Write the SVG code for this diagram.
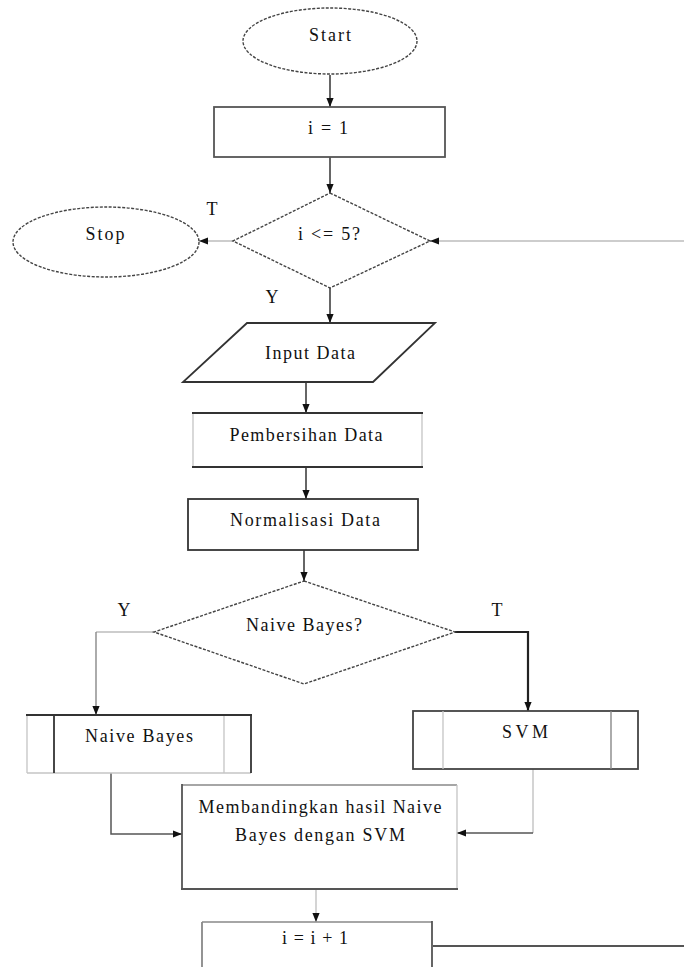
<svg xmlns="http://www.w3.org/2000/svg" width="684" height="967" viewBox="0 0 684 967">
<style>
  text { font-family: "Liberation Serif", "Times New Roman", serif; font-size: 18px; fill: #111; text-anchor: middle; }
  .dash { fill: #fff; stroke: #444; stroke-width: 1.4; stroke-dasharray: 3 1.5; }
  .box { fill: #fff; stroke: #333; stroke-width: 1.8; }
  .lt { stroke: #c4c4c4; stroke-width: 1.3; fill: none; }
  .dk { stroke: #333; stroke-width: 1.8; fill: none; }
  .md { stroke: #888; stroke-width: 1.4; fill: none; }
  .c { stroke: #333; stroke-width: 1.5; fill: none; }
  .cl { stroke: #bdbdbd; stroke-width: 1.3; fill: none; }
  .ar { marker-end: url(#ah); }
</style>
<defs>
  <marker id="ah" viewBox="0 0 10 10" refX="10" refY="5" markerWidth="9" markerHeight="9" markerUnits="userSpaceOnUse" orient="auto">
    <path d="M0,1 L10,5 L0,9 z" fill="#111"/>
  </marker>
</defs>

<g id="connectors">
  <line class="c ar" x1="330" y1="75" x2="330" y2="107"/>
  <line class="c ar" x1="330" y1="157" x2="330" y2="193"/>
  <line class="cl ar" x1="233" y1="241" x2="199" y2="241"/>
  <line class="cl ar" x1="684" y1="241" x2="430" y2="241"/>
  <line class="c ar" x1="330" y1="288" x2="330" y2="323"/>
  <line class="c ar" x1="306" y1="382" x2="306" y2="413"/>
  <line class="c ar" x1="306" y1="467" x2="306" y2="499"/>
  <line class="c ar" x1="304" y1="550" x2="304" y2="581"/>
  <polyline class="cl" points="154,632 96,632"/>
  <line class="md ar" x1="96" y1="632" x2="96" y2="715"/>
  <polyline class="c ar" style="stroke-width:2.2;stroke:#222" points="455,632 528,632 528,711"/>
  <polyline class="c ar" style="stroke:#555" points="111,773 111,834 182,834"/>
  <line class="cl" x1="533" y1="769" x2="533" y2="833"/>
  <line class="c ar" style="stroke:#555" x1="533" y1="833" x2="457" y2="833"/>
  <line class="cl ar" x1="316" y1="889" x2="316" y2="922"/>
  <line class="c" style="stroke:#555;stroke-width:1.8" x1="433" y1="946" x2="684" y2="946"/>
</g>

<g id="start">
  <ellipse class="dash" cx="330" cy="41" rx="87" ry="33"/>
  <text x="330" y="41" textLength="42" lengthAdjust="spacing">Start</text>
</g>

<g id="init">
  <rect class="box" style="stroke:#555" x="214" y="107" width="231" height="50"/>
  <text x="328" y="134" textLength="40" lengthAdjust="spacing">i = 1</text>
</g>

<g id="cond">
  <polygon class="dash" points="330,193 430,241 330,288 233,241"/>
  <text x="329" y="240" textLength="62" lengthAdjust="spacing">i &lt;= 5?</text>
  <text x="212" y="215">T</text>
  <text x="272" y="303">Y</text>
</g>

<g id="stop">
  <ellipse class="dash" cx="106" cy="242" rx="93" ry="35"/>
  <text x="105" y="240" textLength="39" lengthAdjust="spacing">Stop</text>
</g>

<g id="input">
  <polygon class="box" points="247,323 435,323 373,382 183,382"/>
  <text x="310" y="359" textLength="90" lengthAdjust="spacing">Input Data</text>
</g>

<g id="clean">
  <rect x="193" y="413" width="229" height="54" fill="#fff"/>
  <line class="lt" x1="193" y1="413" x2="193" y2="467"/>
  <line class="lt" x1="422" y1="413" x2="422" y2="467"/>
  <line class="dk" x1="192" y1="413" x2="423" y2="413"/>
  <line class="dk" x1="192" y1="467" x2="423" y2="467"/>
  <text x="306" y="441" textLength="153" lengthAdjust="spacing">Pembersihan Data</text>
</g>

<g id="norm">
  <rect class="box" x="188" y="499" width="230" height="51"/>
  <text x="305" y="526" textLength="150" lengthAdjust="spacing">Normalisasi Data</text>
</g>

<g id="choose">
  <polygon class="dash" points="304,581 455,632 304,684 154,632"/>
  <text x="304" y="631" textLength="116" lengthAdjust="spacing">Naive Bayes?</text>
  <text x="124" y="616">Y</text>
  <text x="497" y="616">T</text>
</g>

<g id="nb">
  <rect x="27" y="715" width="224" height="58" fill="#fff"/>
  <line class="lt" x1="27" y1="715" x2="27" y2="773"/>
  <line class="lt" x1="27" y1="773" x2="251" y2="773"/>
  <line class="lt" x1="224" y1="715" x2="224" y2="773"/>
  <line class="dk" x1="54" y1="715" x2="54" y2="773"/>
  <line class="dk" x1="251" y1="715" x2="251" y2="773"/>
  <line class="dk" x1="26" y1="715" x2="252" y2="715"/>
  <text x="139" y="742" textLength="108" lengthAdjust="spacing">Naive Bayes</text>
</g>

<g id="svm">
  <rect class="box" style="stroke:#444" x="413" y="711" width="225" height="58"/>
  <line class="lt" x1="443" y1="711" x2="443" y2="769"/>
  <line class="md" x1="611" y1="711" x2="611" y2="769"/>
  <text x="525" y="738" textLength="46" lengthAdjust="spacing">SVM</text>
</g>

<g id="compare">
  <rect x="182" y="785" width="275" height="104" fill="#fff"/>
  <line class="md" x1="182" y1="785" x2="457" y2="785"/>
  <line class="lt" x1="457" y1="785" x2="457" y2="889"/>
  <line class="dk" style="stroke:#555" x1="182" y1="784" x2="182" y2="890"/>
  <line class="dk" style="stroke:#555" x1="181" y1="889" x2="458" y2="889"/>
  <text x="320" y="813" textLength="243" lengthAdjust="spacing">Membandingkan hasil Naive</text>
  <text x="320" y="841" textLength="170" lengthAdjust="spacing">Bayes dengan SVM</text>
</g>

<g id="incr">
  <rect x="202" y="922" width="230" height="60" fill="#fff"/>
  <line class="md" x1="202" y1="922" x2="432" y2="922"/>
  <line class="md" style="stroke-width:1.8" x1="202" y1="922" x2="202" y2="967"/>
  <line class="dk" style="stroke:#555" x1="432" y1="921" x2="432" y2="967"/>
  <text x="315" y="944" textLength="66" lengthAdjust="spacing">i = i + 1</text>
</g>
</svg>
